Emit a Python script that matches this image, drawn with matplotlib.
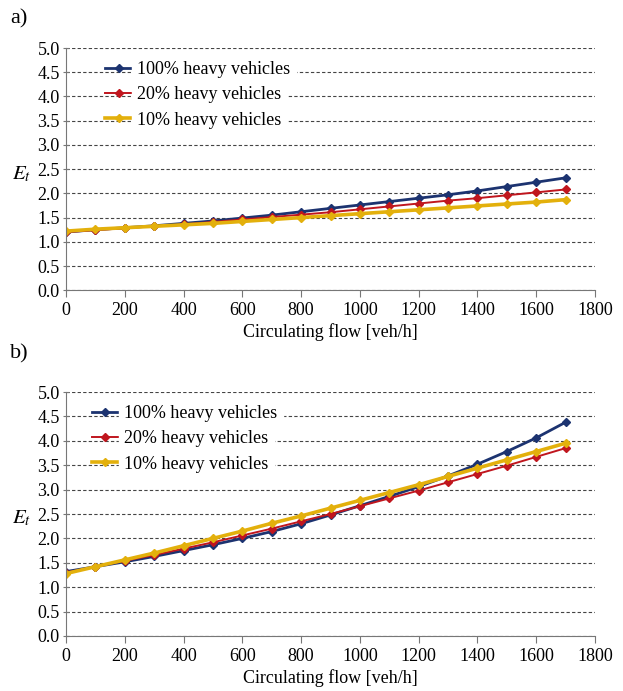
import matplotlib
matplotlib.use("Agg")
import matplotlib.pyplot as plt

plt.rcParams["font.family"] = ["Liberation Serif", "DejaVu Serif"]
plt.rcParams["mathtext.fontset"] = "stix"

flow = [0, 100, 200, 300, 400, 500, 600, 700, 800, 900, 1000,
        1100, 1200, 1300, 1400, 1500, 1600, 1700]

# panel a)
a_hv100 = [1.20, 1.25, 1.29, 1.33, 1.38, 1.43, 1.49, 1.55, 1.62, 1.69, 1.76,
           1.83, 1.90, 1.97, 2.05, 2.14, 2.23, 2.32]
a_hv20 = [1.20, 1.24, 1.28, 1.32, 1.36, 1.41, 1.46, 1.51, 1.56, 1.61, 1.67,
          1.73, 1.79, 1.85, 1.90, 1.96, 2.02, 2.08]
a_hv10 = [1.22, 1.26, 1.29, 1.32, 1.35, 1.38, 1.42, 1.46, 1.50, 1.54, 1.58,
          1.62, 1.66, 1.70, 1.74, 1.78, 1.82, 1.87]

# panel b)
b_hv100 = [1.32, 1.42, 1.52, 1.63, 1.75, 1.87, 2.00, 2.14, 2.30, 2.48, 2.67,
           2.86, 3.06, 3.28, 3.52, 3.78, 4.06, 4.38]
b_hv20 = [1.30, 1.42, 1.54, 1.66, 1.79, 1.92, 2.06, 2.20, 2.35, 2.50, 2.66,
          2.82, 2.98, 3.15, 3.32, 3.49, 3.67, 3.85]
b_hv10 = [1.28, 1.42, 1.56, 1.70, 1.85, 2.00, 2.15, 2.31, 2.46, 2.62, 2.78,
          2.94, 3.10, 3.27, 3.44, 3.61, 3.78, 3.95]

labels = ["100% heavy vehicles", "20% heavy vehicles", "10% heavy vehicles"]
colors = ["#1c3370", "#c0161e", "#e3b00c"]
widths = [2.0, 1.4, 2.6]

fig = plt.figure(figsize=(6.23, 6.91), dpi=100)
ax_a = fig.add_axes([0.106, 0.580, 0.849, 0.3505])
ax_b = fig.add_axes([0.106, 0.0796, 0.849, 0.3531])


def draw_panel(ax, series, tag, tag_y, legend_x):
    for vals, lab, c, lw in zip(series, labels, colors, widths):
        ax.plot(flow, vals, color=c, lw=lw, marker="D", ms=4.5,
                markeredgecolor=c, label=lab)
    ax.set_xlim(0, 1800)
    ax.set_ylim(0, 5.0)
    ax.set_xticks(range(0, 1801, 200))
    ax.set_yticks([i * 0.5 for i in range(11)])
    ax.set_yticklabels([f"{i * 0.5:.1f}" for i in range(11)])
    ax.yaxis.grid(True, ls=(0, (3, 2)), color="#444444", lw=0.8)
    ax.set_axisbelow(True)
    for s in ["top", "right"]:
        ax.spines[s].set_visible(False)
    for s in ["left", "bottom"]:
        ax.spines[s].set_color("#777777")
    ax.tick_params(axis="both", labelsize=13, color="#777777", length=5)
    ax.tick_params(axis="y", direction="inout", pad=2)
    ax.set_xlabel("Circulating flow [veh/h]", fontsize=13, labelpad=3)
    ax.text(-0.085, 0.48, "$E_t$", transform=ax.transAxes, fontsize=15,
            ha="center", va="center")
    fig.text(0.016, tag_y, tag, fontsize=16, ha="left", va="center")
    leg = ax.legend(loc="upper left", bbox_to_anchor=(legend_x, 0.975),
                    frameon=False, fontsize=13, handlelength=1.5,
                    handletextpad=0.3, labelspacing=0.45, borderaxespad=0.0)
    for t in leg.get_texts():
        t.set_backgroundcolor("white")


draw_panel(ax_a, [a_hv100, a_hv20, a_hv10], "a)", 0.973, 0.06)
draw_panel(ax_b, [b_hv100, b_hv20, b_hv10], "b)", 0.488, 0.035)

fig.savefig("out.png", dpi=100, facecolor="white")
